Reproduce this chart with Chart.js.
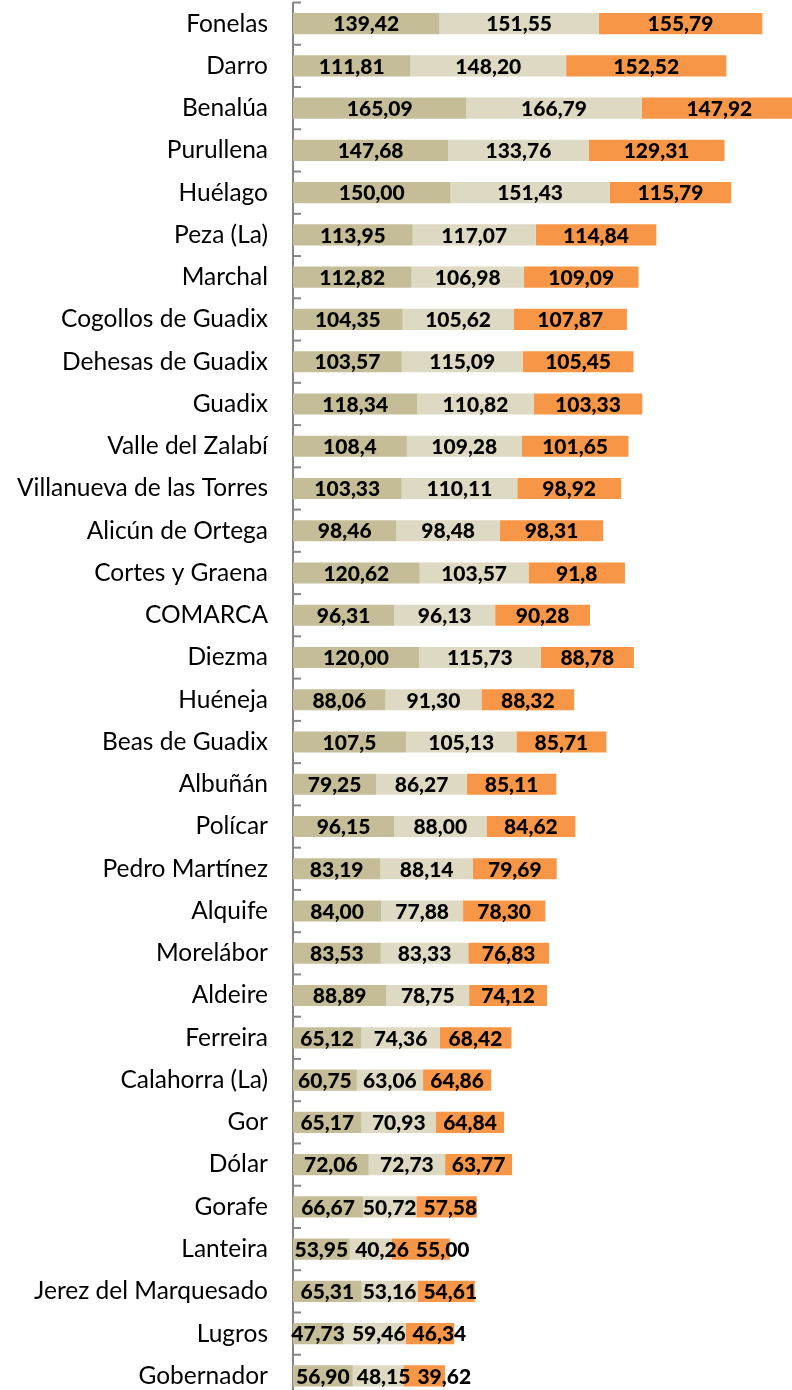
<!DOCTYPE html>
<html>
<head>
<meta charset="utf-8">
<script src="https://cdn.jsdelivr.net/npm/chart.js@4"></script>
<style>
  html, body { margin: 0; padding: 0; background: #ffffff; overflow: hidden; }
  #wrap { width: 792px; height: 1397px; position: relative; }
</style>
</head>
<body>
<div id="wrap"><canvas id="c" width="792" height="1397"></canvas></div>
<script>
const categories = ["Fonelas","Darro","Benalúa","Purullena","Huélago","Peza (La)","Marchal","Cogollos de Guadix","Dehesas de Guadix","Guadix","Valle del Zalabí","Villanueva de las Torres","Alicún de Ortega","Cortes y Graena","COMARCA","Diezma","Huéneja","Beas de Guadix","Albuñán","Polícar","Pedro Martínez","Alquife","Morelábor","Aldeire","Ferreira","Calahorra (La)","Gor","Dólar","Gorafe","Lanteira","Jerez del Marquesado","Lugros","Gobernador"];
const series1Labels = ["139,42","111,81","165,09","147,68","150,00","113,95","112,82","104,35","103,57","118,34","108,4","103,33","98,46","120,62","96,31","120,00","88,06","107,5","79,25","96,15","83,19","84,00","83,53","88,89","65,12","60,75","65,17","72,06","66,67","53,95","65,31","47,73","56,90"];
const series2Labels = ["151,55","148,20","166,79","133,76","151,43","117,07","106,98","105,62","115,09","110,82","109,28","110,11","98,48","103,57","96,13","115,73","91,30","105,13","86,27","88,00","88,14","77,88","83,33","78,75","74,36","63,06","70,93","72,73","50,72","40,26","53,16","59,46","48,15"];
const series3Labels = ["155,79","152,52","147,92","129,31","115,79","114,84","109,09","107,87","105,45","103,33","101,65","98,92","98,31","91,8","90,28","88,78","88,32","85,71","85,11","84,62","79,69","78,30","76,83","74,12","68,42","64,86","64,84","63,77","57,58","55,00","54,61","46,34","39,62"];
const seriesColors = ["#C4BD97", "#DDD9C3", "#F79646"];

const toNum = s => parseFloat(s.replace(',', '.'));
const series1 = series1Labels.map(toNum);
const series2 = series2Labels.map(toNum);
const series3 = series3Labels.map(toNum);
const allLabels = [series1Labels, series2Labels, series3Labels];

const insideTicks = {
  id: 'insideTicks',
  afterDatasetsDraw(chart) {
    const y = chart.scales.y;
    const ctx = chart.ctx;
    const n = categories.length;
    const band = y.getPixelForValue(1) - y.getPixelForValue(0);
    const x0 = chart.chartArea.left;
    ctx.save();
    ctx.strokeStyle = '#868686';
    ctx.lineWidth = 2;
    for (let i = 0; i <= n; i++) {
      const py = y.getPixelForValue(i) - band / 2;
      ctx.beginPath();
      ctx.moveTo(x0, py);
      ctx.lineTo(x0 + 8, py);
      ctx.stroke();
    }
    ctx.restore();
  }
};

const valueLabels = {
  id: 'valueLabels',
  afterDatasetsDraw(chart) {
    const ctx = chart.ctx;
    ctx.save();
    ctx.font = '900 21px Lato';
    ctx.fillStyle = '#000000';
    ctx.textBaseline = 'middle';
    ctx.textAlign = 'left';
    const gap = 7;
    for (let i = 0; i < categories.length; i++) {
      let prevRight = -Infinity;
      for (let d = 0; d < chart.data.datasets.length; d++) {
        const el = chart.getDatasetMeta(d).data[i];
        const txt = allLabels[d][i];
        const w = ctx.measureText(txt).width;
        const center = (el.x + el.base) / 2;
        let left = center - w / 2;
        if (left < prevRight + gap) left = prevRight + gap;
        ctx.fillText(txt, left, el.y + 1);
        prevRight = left + w;
      }
    }
    ctx.restore();
  }
};

new Chart(document.getElementById('c'), {
  type: 'bar',
  data: {
    labels: categories,
    datasets: [
      { label: 'S1', data: series1, backgroundColor: seriesColors[0] },
      { label: 'S2', data: series2, backgroundColor: seriesColors[1] },
      { label: 'S3', data: series3, backgroundColor: seriesColors[2] }
    ]
  },
  options: {
    indexAxis: 'y',
    responsive: false,
    animation: false,
    devicePixelRatio: 1,
    layout: { padding: { top: 2.5, right: 0, bottom: 0, left: 0 } },
    datasets: { bar: { categoryPercentage: 1.0, barPercentage: 0.5, borderWidth: 0 } },
    plugins: { legend: { display: false }, tooltip: { enabled: false } },
    scales: {
      x: { display: false, stacked: true, min: 0, max: 475 },
      y: {
        stacked: true,
        grid: { display: true, drawOnChartArea: false, drawTicks: false },
        border: { display: true, color: '#868686', width: 2 },
        ticks: { color: '#000000', font: { family: 'Lato', size: 24.5 }, padding: 25, autoSkip: false },
        afterFit(scale) { scale.width = 293; scale.paddingTop = 0; scale.paddingBottom = 0; }
      }
    }
  },
  plugins: [insideTicks, valueLabels]
});
</script>
</body>
</html>
